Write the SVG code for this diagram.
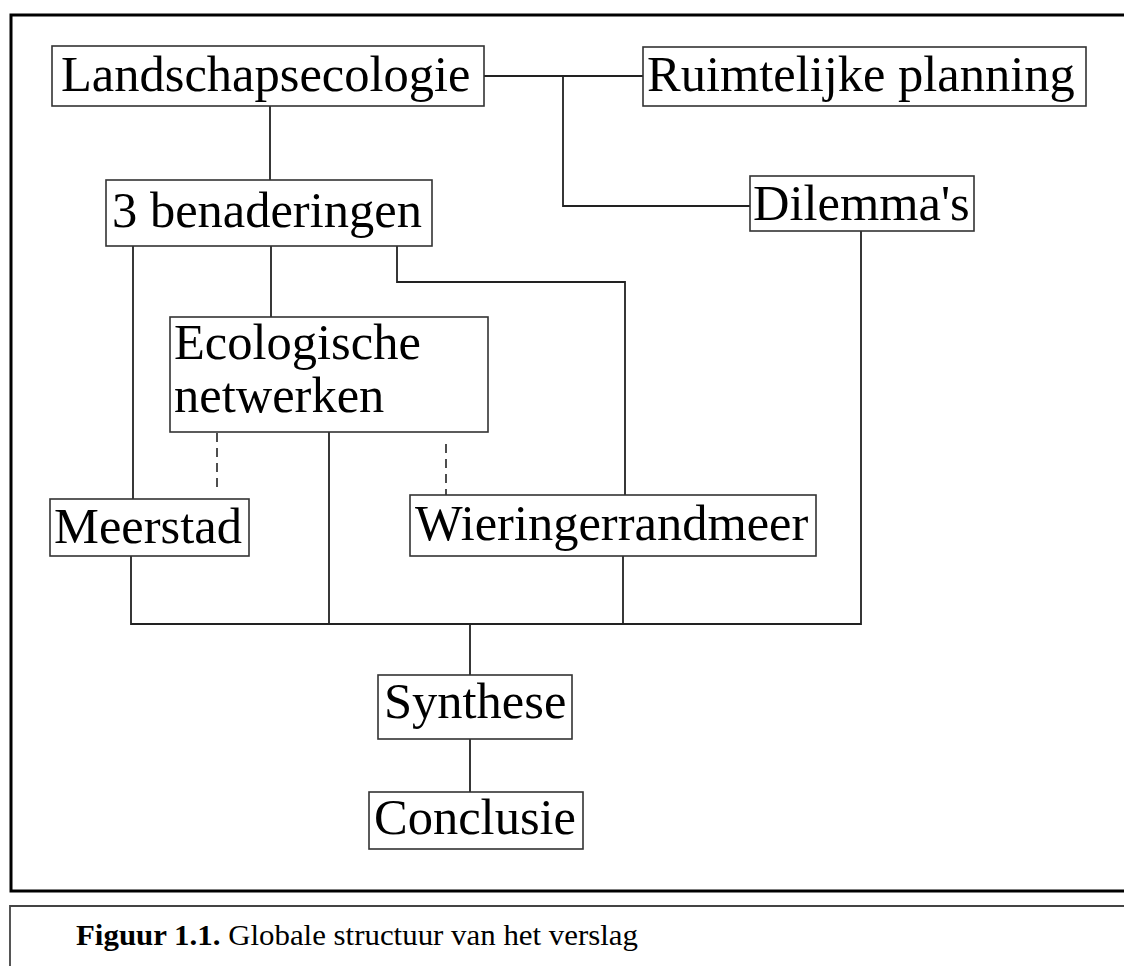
<svg xmlns="http://www.w3.org/2000/svg" width="1124" height="966" viewBox="0 0 1124 966">
<style>
.box{fill:#fff;stroke:#333;stroke-width:1.6}
.lbl{font-family:"Liberation Serif","Times New Roman",serif;font-size:50.5px;fill:#000}
.ln{fill:none;stroke:#222;stroke-width:1.8}
.dash{fill:none;stroke:#222;stroke-width:1.6;stroke-dasharray:9 6}
.cap{font-family:"Liberation Serif","Times New Roman",serif;font-size:30px;fill:#000}
</style>
<rect x="0" y="0" width="1124" height="966" fill="#fff"/>
<g id="frame">
<polyline points="1124,15 11,15 11,891 1124,891" fill="none" stroke="#000" stroke-width="3"/>
<polyline points="10,966 10,906 1124,906" fill="none" stroke="#444" stroke-width="1.8"/>
</g>
<g id="connectors">
<line class="ln" x1="484" y1="76" x2="643" y2="76"/>
<polyline class="ln" points="563,76 563,206 750,206"/>
<line class="ln" x1="270" y1="106" x2="270" y2="180"/>
<line class="ln" x1="133" y1="246" x2="133" y2="499"/>
<line class="ln" x1="271" y1="246" x2="271" y2="317"/>
<polyline class="ln" points="397,246 397,282 625,282 625,495"/>
<polyline class="ln" points="861,231 861,624 131,624 131,556"/>
<line class="ln" x1="329" y1="432" x2="329" y2="624"/>
<line class="ln" x1="623" y1="556" x2="623" y2="624"/>
<line class="ln" x1="470" y1="624" x2="470" y2="675"/>
<line class="ln" x1="470" y1="739" x2="470" y2="792"/>
<line class="dash" x1="217" y1="433" x2="217" y2="493"/>
<line class="dash" x1="446" y1="444" x2="446" y2="495"/>
</g>
<g id="landschapsecologie">
<rect class="box" x="52" y="46" width="432" height="60"/>
<text class="lbl" x="61" y="91">Landschapsecologie</text>
</g>
<g id="ruimtelijke-planning">
<rect class="box" x="643" y="47" width="443" height="59"/>
<text class="lbl" x="647" y="91">Ruimtelijke planning</text>
</g>
<g id="drie-benaderingen">
<rect class="box" x="106" y="180" width="326" height="66"/>
<text class="lbl" x="112" y="227">3 benaderingen</text>
</g>
<g id="dilemmas">
<rect class="box" x="750" y="176" width="224" height="55"/>
<text class="lbl" x="753" y="220">Dilemma's</text>
</g>
<g id="ecologische-netwerken">
<rect class="box" x="170" y="317" width="318" height="115"/>
<text class="lbl" x="174" y="359">Ecologische</text>
<text class="lbl" x="174" y="412">netwerken</text>
</g>
<g id="meerstad">
<rect class="box" x="50" y="499" width="199" height="57"/>
<text class="lbl" x="54" y="543">Meerstad</text>
</g>
<g id="wieringerrandmeer">
<rect class="box" x="410" y="495" width="406" height="61"/>
<text class="lbl" x="415" y="540">Wieringerrandmeer</text>
</g>
<g id="synthese">
<rect class="box" x="378" y="675" width="194" height="64"/>
<text class="lbl" x="384" y="718">Synthese</text>
</g>
<g id="conclusie">
<rect class="box" x="369" y="792" width="214" height="57"/>
<text class="lbl" x="374" y="834">Conclusie</text>
</g>
<g id="caption">
<text class="cap" x="76" y="945" textLength="562" lengthAdjust="spacingAndGlyphs"><tspan font-weight="bold">Figuur 1.1.</tspan> Globale structuur van het verslag</text>
</g>
</svg>
